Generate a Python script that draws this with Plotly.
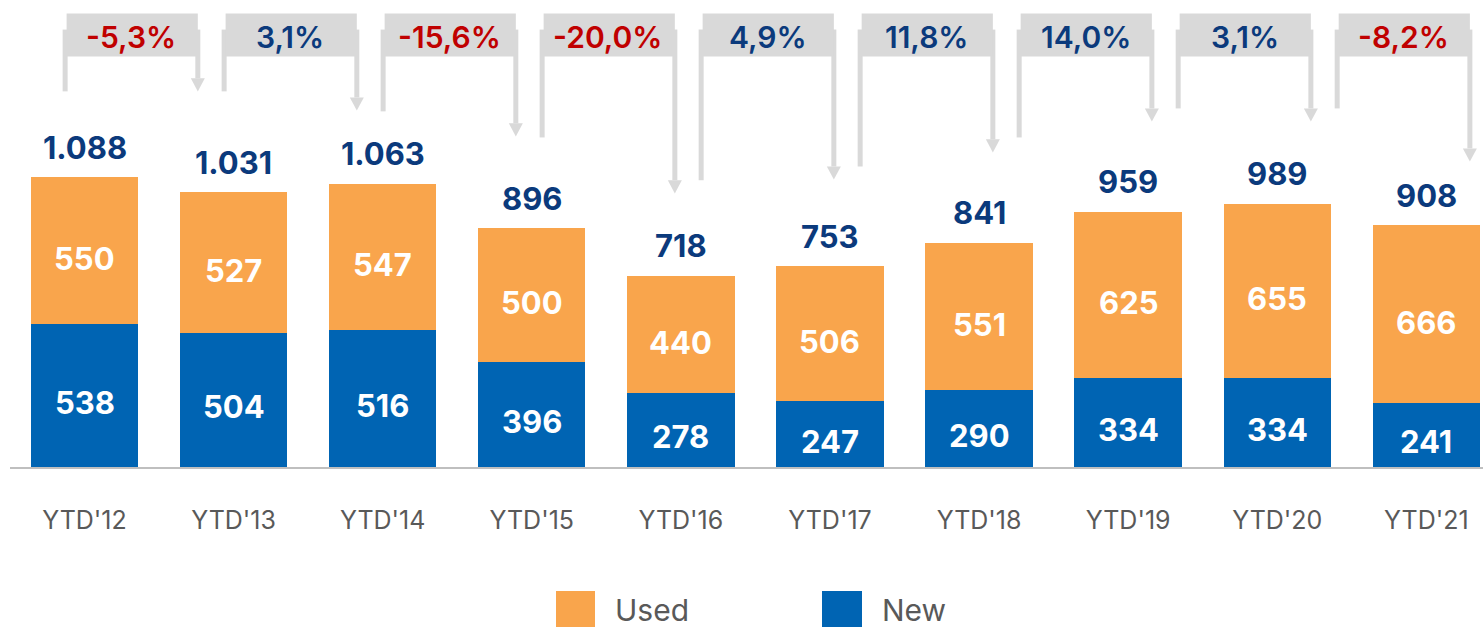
import plotly.graph_objects as go

# ---------------- data ----------------
CATEGORIES = ["YTD'12", "YTD'13", "YTD'14", "YTD'15", "YTD'16",
              "YTD'17", "YTD'18", "YTD'19", "YTD'20", "YTD'21"]
NEW = [538, 504, 516, 396, 278, 247, 290, 334, 334, 241]
USED = [550, 527, 547, 500, 440, 506, 551, 625, 655, 666]
TOTALS = [1088, 1031, 1063, 896, 718, 753, 841, 959, 989, 908]
YOY_PCT = [-5.3, 3.1, -15.6, -20.0, 4.9, 11.8, 14.0, 3.1, -8.2]

# ---------------- style ----------------
C_USED = "#F9A54C"
C_NEW = "#0064B3"
C_NAVY = "#0B3A7C"
C_RED = "#C00000"
C_GREY_BOX = "#D9D9D9"
C_TEXT = "#595959"
FONT = "Inter"

# connector layout (data units on the value axis, category-index units on x)
CONN_START_X = -0.13
CONN_PITCH = 1.0665
CONN_SPAN = 0.89
CONN_FROM_Y = [1410, 1410, 1335, 1237, 1076, 1128, 1237, 1346, 1346]
CONN_TO_Y = [1410, 1338, 1241, 1027, 1079, 1181, 1297, 1297, 1147]
BOX_Y0, BOX_Y1 = 1541, 1702
LINE_TOP = 1642
HEAD_HALF_W = 0.047
HEAD_H = 49

Y_MAX = 1753


def fmt_thousands(v):
    return f"{v:,}".replace(",", ".")


def fmt_pct(p):
    return f"{p:.1f}%".replace(".", ",")


fig = go.Figure()
fig.add_trace(go.Bar(x=CATEGORIES, y=NEW, name="New", marker=dict(color=C_NEW, line=dict(width=0)),
                     width=0.72, showlegend=False, hoverinfo="x+y"))
fig.add_trace(go.Bar(x=CATEGORIES, y=USED, name="Used", marker=dict(color=C_USED, line=dict(width=0)),
                     width=0.72, showlegend=False, hoverinfo="x+y"))

annotations = []
shapes = []

LABEL_FONT = dict(family=FONT, size=31, color="white", weight=700)

# segment labels
for i in range(len(CATEGORIES)):
    annotations.append(dict(x=i, y=NEW[i] / 2, xref="x", yref="y", text=str(NEW[i]),
                            showarrow=False, yshift=-7, font=LABEL_FONT))
    annotations.append(dict(x=i, y=NEW[i] + USED[i] / 2, xref="x", yref="y", text=str(USED[i]),
                            showarrow=False, yshift=-8, font=LABEL_FONT))
    annotations.append(dict(x=i, y=TOTALS[i], xref="x", yref="y", text=fmt_thousands(TOTALS[i]),
                            showarrow=False, yshift=30, yanchor="middle",
                            font=dict(family=FONT, size=31, color=C_NAVY, weight=700)))

# connectors with percentage boxes
for k, p in enumerate(YOY_PCT):
    x0 = CONN_START_X + k * CONN_PITCH
    x1 = x0 + CONN_SPAN
    line_style = dict(color=C_GREY_BOX, width=5)
    shapes.append(dict(type="line", xref="x", yref="y", x0=x0, x1=x0,
                       y0=LINE_TOP, y1=CONN_FROM_Y[k], line=line_style, layer="above"))
    shapes.append(dict(type="line", xref="x", yref="y", x0=x1, x1=x1,
                       y0=LINE_TOP, y1=CONN_TO_Y[k] + HEAD_H, line=line_style, layer="above"))
    tip = CONN_TO_Y[k]
    shapes.append(dict(type="path", xref="x", yref="y",
                       path=f"M {x1 - HEAD_HALF_W},{tip + HEAD_H} L {x1 + HEAD_HALF_W},{tip + HEAD_H} L {x1},{tip} Z",
                       fillcolor=C_GREY_BOX, line=dict(width=0), layer="above"))
    shapes.append(dict(type="rect", xref="x", yref="y", x0=x0 + 0.01, x1=x1,
                       y0=BOX_Y0, y1=BOX_Y1, fillcolor=C_GREY_BOX, line=dict(width=0), layer="above"))
    annotations.append(dict(x=(x0 + x1) / 2, y=(BOX_Y0 + BOX_Y1) / 2, xref="x", yref="y",
                            text=fmt_pct(p), showarrow=False, yshift=-2,
                            font=dict(family=FONT, size=30, color=C_RED if p < 0 else C_NAVY, weight=600)))

# manual legend (large swatches)
PLOT_L, PLOT_W, PLOT_H = 10, 1473, 467


def px_x(px):
    return (px - PLOT_L) / PLOT_W


def px_y(py):
    return (PLOT_H - py) / PLOT_H


for (name, color, sx0, sx1, tx) in [("Used", C_USED, 556, 595, 613), ("New", C_NEW, 822, 862, 880)]:
    shapes.append(dict(type="rect", xref="paper", yref="paper", x0=px_x(sx0), x1=px_x(sx1),
                       y0=px_y(640), y1=px_y(591), fillcolor=color, line=dict(width=0)))
    annotations.append(dict(x=px_x(tx), y=px_y(610), xref="paper", yref="paper", text=name,
                            showarrow=False, xanchor="left", yanchor="middle",
                            font=dict(family=FONT, size=30, color=C_TEXT)))

fig.update_layout(
    barmode="stack",
    width=1483, height=627,
    margin=dict(l=PLOT_L, r=0, t=0, b=160, pad=0),
    paper_bgcolor="white", plot_bgcolor="white",
    showlegend=False,
    shapes=shapes, annotations=annotations,
    xaxis=dict(type="category", range=[-0.4997, 9.380], showgrid=False, zeroline=False,
               showline=True, linecolor="#BFBFBF", linewidth=2, ticks="",
               ticklabelstandoff=30,
               tickfont=dict(family=FONT, size=25, color=C_TEXT)),
    yaxis=dict(range=[0, Y_MAX], visible=False, showgrid=False, zeroline=False),
)

fig.write_html("out.html",
               config={"displayModeBar": False},
               post_script="document.body.style.margin='0px';document.body.style.overflow='hidden';")
